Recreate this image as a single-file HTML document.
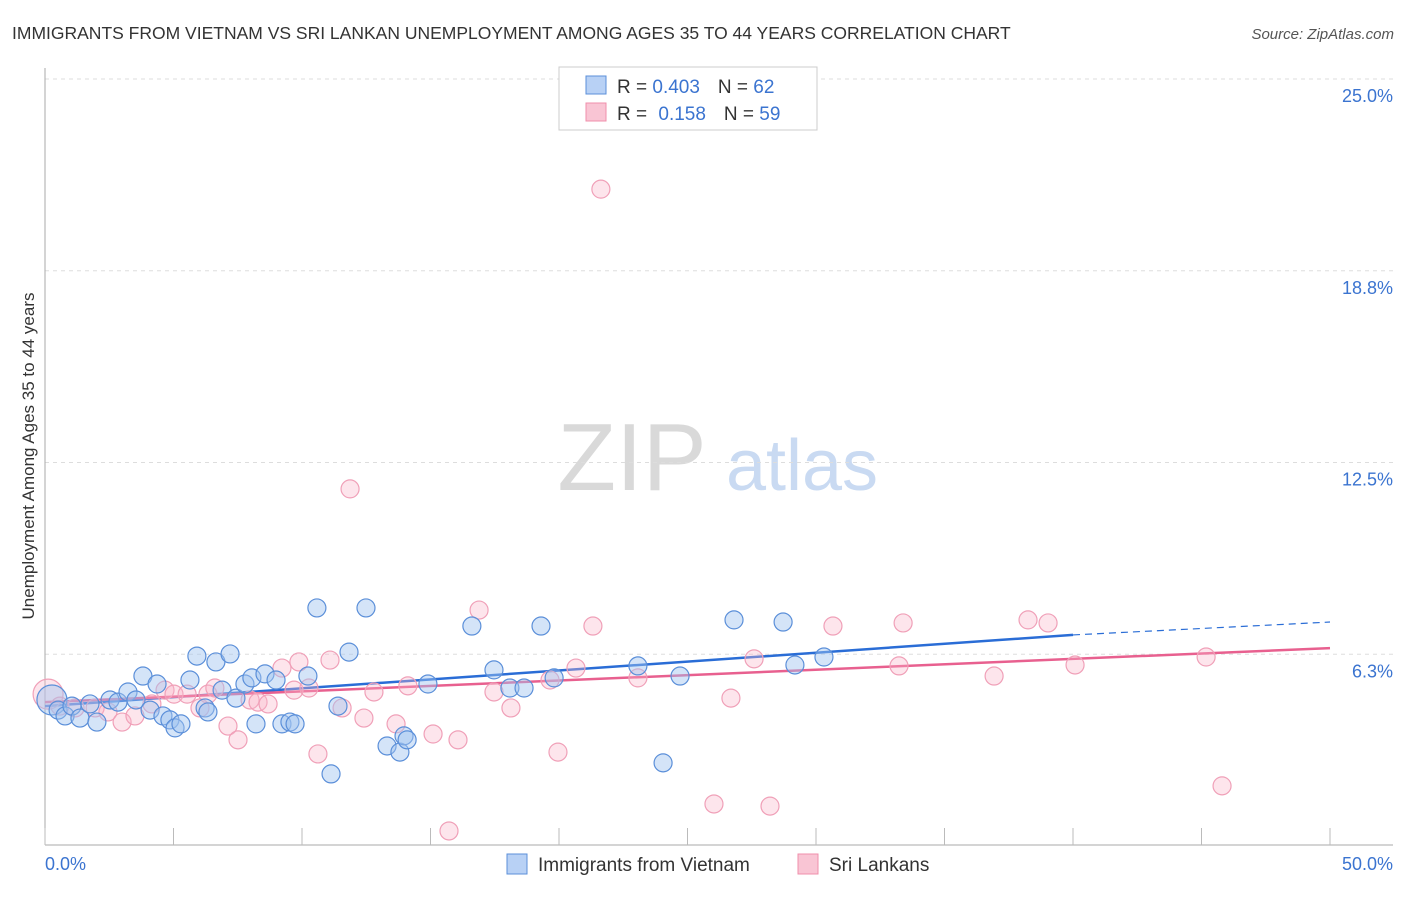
<!DOCTYPE html>
<html><head><meta charset="utf-8"><style>
body{margin:0;background:#fff;font-family:"Liberation Sans",sans-serif;}
svg text{font-family:"Liberation Sans",sans-serif;}
</style></head><body>
<svg id="chart" width="1406" height="892" xmlns="http://www.w3.org/2000/svg">
<text x="12" y="39" font-size="17.5" fill="#333">IMMIGRANTS FROM VIETNAM VS SRI LANKAN UNEMPLOYMENT AMONG AGES 35 TO 44 YEARS CORRELATION CHART</text>
<text x="1394" y="39" font-size="15" fill="#555" text-anchor="end" font-style="italic">Source: ZipAtlas.com</text>
<g>
<text x="632" y="490" font-size="96" fill="#d9d9d9" font-family="Liberation Serif,serif" text-anchor="middle">ZIP</text>
<text x="802" y="490" font-size="72" fill="#c9daf2" text-anchor="middle">atlas</text>
</g>
<g id="grid"></g>
<g id="axes"></g>
<g id="lines"></g>
<g id="points"></g>
<text transform="translate(34,456) rotate(-90)" font-size="17" fill="#333" text-anchor="middle">Unemployment Among Ages 35 to 44 years</text>
<g>
<rect x="559" y="67" width="258" height="63" fill="#fff" stroke="#ccc"/>
<rect x="586" y="76" width="20" height="18" fill="#b8d1f5" stroke="#5b8fd9"/>
<rect x="586" y="103" width="20" height="18" fill="#f9c5d4" stroke="#f08fab"/>
<text x="617" y="93" font-size="19" fill="#333">R = <tspan fill="#3b74d0">0.403</tspan><tspan dx="18">N = </tspan><tspan fill="#3b74d0">62</tspan></text>
<text x="617" y="120" font-size="19" fill="#333">R = <tspan fill="#3b74d0" dx="6">0.158</tspan><tspan dx="18">N = </tspan><tspan fill="#3b74d0">59</tspan></text>
</g>
<g>
<rect x="507" y="854" width="20" height="20" fill="#b8d1f5" stroke="#5b8fd9"/>
<text x="538" y="871" font-size="19" fill="#333">Immigrants from Vietnam</text>
<rect x="798" y="854" width="20" height="20" fill="#f9c5d4" stroke="#f08fab"/>
<text x="829" y="871" font-size="19" fill="#333">Sri Lankans</text>
</g>
</svg>
<script>
const yTicks=[6.25,12.5,18.75,25];
const yTickLabels=["6.3%","12.5%","18.8%","25.0%"];
const xTickVals=[0,5,10,15,20,25,30,35,40,45,50];
const vietX=[0.27,0.51,0.78,1.05,1.36,1.75,2.02,2.53,2.84,3.23,3.54,3.81,4.09,4.36,4.59,4.86,5.06,5.29,5.64,5.91,6.23,6.34,6.65,6.89,7.2,7.43,7.78,8.05,8.21,8.56,8.99,9.22,9.53,9.73,10.23,10.58,11.13,11.4,11.83,12.49,13.31,13.81,13.97,14.09,14.9,16.61,17.47,18.09,18.64,19.3,19.81,23.07,24.05,24.71,26.81,28.72,29.18,30.31];
const vietY=[4.76,4.43,4.24,4.56,4.17,4.63,4.04,4.76,4.69,5.02,4.76,5.54,4.43,5.28,4.24,4.11,3.85,3.98,5.41,6.19,4.5,4.37,6.0,5.08,6.26,4.82,5.28,5.48,3.98,5.61,5.41,3.98,4.04,3.98,5.54,7.76,2.35,4.56,6.32,7.76,3.26,3.06,3.59,3.46,5.28,7.17,5.74,5.15,5.15,7.17,5.48,5.87,2.71,5.54,7.37,7.3,5.9,6.16];
const sriX=[0.12,0.58,1.17,1.95,2.45,3.0,3.5,4.16,4.67,5.02,5.53,6.03,6.34,6.61,7.12,7.51,7.98,8.29,8.68,9.22,9.69,9.88,10.27,10.62,11.09,11.56,11.87,12.41,12.8,13.66,14.12,15.1,15.72,16.07,16.89,17.47,18.13,19.65,19.96,20.66,21.32,21.63,23.07,26.03,26.69,27.59,28.21,30.66,33.23,33.39,36.93,38.25,39.03,40.08,45.18,45.8];
const sriY=[4.95,4.56,4.5,4.5,4.37,4.04,4.24,4.63,5.08,4.95,4.95,4.5,4.95,5.15,3.91,3.46,4.76,4.69,4.63,5.8,5.08,6.0,5.15,3.0,6.06,4.5,11.64,4.17,5.02,3.98,5.22,3.65,0.49,3.46,7.69,5.02,4.5,5.41,3.06,5.8,7.17,21.41,5.48,1.37,4.82,6.1,1.3,7.17,5.87,7.27,5.54,7.37,7.27,5.9,6.16,1.96];
const vietTrend=[4.56,6.88,7.3]; // at x=0,40,50
const sriTrend=[4.69,6.45]; // at x=0,50
const X=v=>45+v*25.7, Y=v=>846-v*30.68;
const NS="http://www.w3.org/2000/svg";
function mk(tag,attrs,parent){const e=document.createElementNS(NS,tag);for(const k in attrs)e.setAttribute(k,attrs[k]);document.getElementById(parent).appendChild(e);return e;}
yTicks.forEach((t,i)=>{
 const g=mk('line',{x1:45,x2:1393,y1:Y(t),y2:Y(t),stroke:'#ddd','stroke-dasharray':'4,4'},'grid');
 
 
 const l=mk('text',{x:1393,y:Y(t)+23,'font-size':18,fill:'#3b74d0','text-anchor':'end'},'grid');
 l.textContent=yTickLabels[i];
 
 
});
const tl=mk('line',{x1:45,x2:1393,y1:79,y2:79,stroke:'#ddd','stroke-dasharray':'4,4'},'grid');


const ax=mk('line',{x1:45,x2:1393,y1:845,y2:845,stroke:'#aaa'},'axes');


const ay=mk('line',{x1:45,x2:45,y1:68,y2:845,stroke:'#aaa'},'axes');


xTickVals.forEach(v=>{const t=mk('line',{x1:X(v),x2:X(v),y1:828,y2:845,stroke:'#bbb'},'axes');
 
 });
const xl0=mk('text',{x:45,y:870,'font-size':18,fill:'#3b74d0'},'axes');xl0.textContent='0.0%';


const xl1=mk('text',{x:1393,y:870,'font-size':18,fill:'#3b74d0','text-anchor':'end'},'axes');xl1.textContent='50.0%';


function pts(xs,ys,fill,stroke,name){xs.forEach((x,i)=>{const c=mk('circle',{cx:X(x),cy:Y(ys[i]),r:(x<0.3?15:9),fill:fill,stroke:stroke,'stroke-width':1.2},'points');
 
 });}
pts(sriX,sriY,'rgba(248,180,200,0.35)','#f0a0b8','sri-lankan-point');
pts(vietX,vietY,'rgba(160,195,240,0.45)','#5b8fd9','vietnam-point');
const b1=mk('line',{x1:X(0),y1:Y(vietTrend[0]),x2:X(40),y2:Y(vietTrend[1]),stroke:'#2a6dd6','stroke-width':2.5},'lines');


const b2=mk('line',{x1:X(40),y1:Y(vietTrend[1]),x2:X(50),y2:Y(vietTrend[2]),stroke:'#2a6dd6','stroke-width':1.2,'stroke-dasharray':'7,5'},'lines');


const p1=mk('line',{x1:X(0),y1:Y(sriTrend[0]),x2:X(50),y2:Y(sriTrend[1]),stroke:'#e8608f','stroke-width':2.5},'lines');


</script>
</body></html>
